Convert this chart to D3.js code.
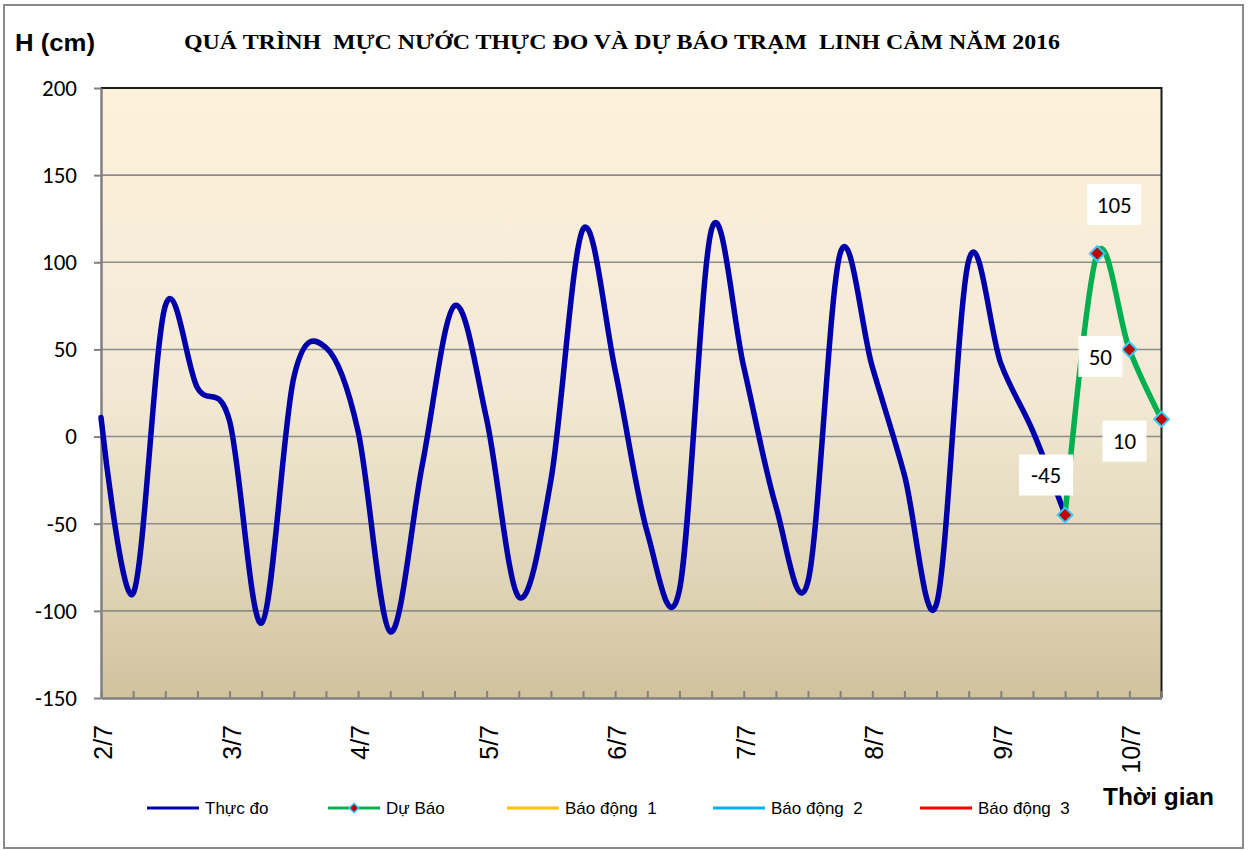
<!DOCTYPE html>
<html>
<head>
<meta charset="utf-8">
<script src="https://cdn.jsdelivr.net/npm/d3@7"></script>
<style>
  html, body { margin: 0; padding: 0; background: #fff; }
  svg { display: block; }
</style>
</head>
<body>
<svg id="chart" width="1251" height="850"></svg>
<script>
// ---------- DATA ----------
const title = "QUÁ TRÌNH  MỰC NƯỚC THỰC ĐO VÀ DỰ BÁO TRẠM  LINH CẢM NĂM 2016";
const yAxisTitle = "H (cm)";
const xAxisTitle = "Thời gian";
// 34 time steps (4 per day), 2/7 .. 10/7
const categories = d3.range(34);
const dayLabels = ["2/7", "3/7", "4/7", "5/7", "6/7", "7/7", "8/7", "9/7", "10/7"];
const stepsPerDay = 4;
const yTicks = [-150, -100, -50, 0, 50, 100, 150, 200];
// Observed water level (Thực đo), steps 0..30
const observed = [11, -90, 75, 28, 9, -107, 34, 51, 3, -112, -16, 75, 10, -92, -25, 119,
                  38, -55, -88, 119, 40, -40, -83, 105, 40, -22, -96, 101, 42, 3, -45];
// Forecast (Dự Báo), steps 30..33
const forecastStart = 30;
const forecast = [-45, 105, 50, 10];
const legendNames = ["Thực đo", "Dự Báo", "Báo động  1", "Báo động  2", "Báo động  3"];
const legendColors = ["#0000aa", "#00b050", "#ffc000", "#00b0f0", "#ff0000"];

// ---------- LAYOUT ----------
const svg = d3.select("#chart");
const P = { left: 101, right: 1161.5, top: 88, bottom: 698 };

const x = d3.scalePoint().domain(categories).range([P.left, P.right]);
const y = d3.scaleLinear().domain([-150, 200]).range([P.bottom, P.top]);

// outer frame
svg.append("rect").attr("x", 4).attr("y", 5).attr("width", 1239).attr("height", 843)
  .attr("fill", "#fff").attr("stroke", "#8a8a8a").attr("stroke-width", 2);

// background gradient
const defs = svg.append("defs");
const grad = defs.append("linearGradient").attr("id", "bg").attr("x1", 0).attr("y1", 0).attr("x2", 0).attr("y2", 1);
[["0%", "#fef1dc"], ["50%", "#f2e9d4"], ["80%", "#e0d5b7"], ["100%", "#d1c29d"]].forEach(s =>
  grad.append("stop").attr("offset", s[0]).attr("stop-color", s[1]));
svg.append("rect").attr("x", P.left).attr("y", P.top)
  .attr("width", P.right - P.left).attr("height", P.bottom - P.top).attr("fill", "url(#bg)");

// gridlines
svg.append("g").selectAll("line").data(yTicks.filter(t => t > -150 && t < 200)).join("line")
  .attr("x1", P.left).attr("x2", P.right).attr("y1", d => y(d)).attr("y2", d => y(d))
  .attr("stroke", "#8c8c8c").attr("stroke-width", 1.6);

// top & right border (black)
svg.append("path")
  .attr("d", `M${P.left},${P.top}H${P.right}V${P.bottom}`)
  .attr("fill", "none").attr("stroke", "#1a1a1a").attr("stroke-width", 2);

// y axis
const yAxis = d3.axisLeft(y).tickValues(yTicks).tickSize(7).tickSizeOuter(0).tickFormat(d => String(d));
const gy = svg.append("g").attr("transform", `translate(${P.left},0)`).call(yAxis);
gy.select(".domain").attr("stroke", "#808080").attr("stroke-width", 2.5);
gy.selectAll(".tick line").attr("stroke", "#808080").attr("stroke-width", 2);
gy.selectAll(".tick text").attr("x", -24).attr("font-family", "Carlito, 'Liberation Sans', Arial, sans-serif")
  .attr("font-size", 23).attr("fill", "#000");

// x axis (ticks inward)
const xAxis = d3.axisBottom(x).tickSize(-7).tickSizeOuter(0).tickFormat("");
const gx = svg.append("g").attr("transform", `translate(0,${P.bottom})`).call(xAxis);
gx.select(".domain").attr("stroke", "#808080").attr("stroke-width", 2.5);
gx.selectAll(".tick line").attr("stroke", "#808080").attr("stroke-width", 2);

// x day labels, rotated
svg.append("g").selectAll("text").data(dayLabels).join("text")
  .attr("transform", (d, i) => `translate(${x(i * stepsPerDay) + 11},725) rotate(-90)`)
  .attr("text-anchor", "end")
  .attr("font-family", "'Liberation Sans', Arial, sans-serif").attr("font-size", 25)
  .attr("fill", "#000").text(d => d);

// lines
const curve = d3.curveCatmullRom.alpha(0);
const lineGen = d3.line().x(d => x(d.i)).y(d => y(d.v)).curve(curve);
const obsData = observed.map((v, i) => ({ i, v }));
const fcData = forecast.map((v, k) => ({ i: forecastStart + k, v }));

svg.append("path").datum(obsData).attr("d", lineGen)
  .attr("fill", "none").attr("stroke", legendColors[0]).attr("stroke-width", 5.5)
  .attr("stroke-linejoin", "round").attr("stroke-linecap", "round");
svg.append("path").datum(fcData).attr("d", lineGen)
  .attr("fill", "none").attr("stroke", legendColors[1]).attr("stroke-width", 5.5)
  .attr("stroke-linejoin", "round").attr("stroke-linecap", "round");

svg.append("g").selectAll("path").data(fcData).join("path")
  .attr("transform", d => `translate(${x(d.i)},${y(d.v)}) rotate(45)`)
  .attr("d", d3.symbol().type(d3.symbolSquare).size(110))
  .attr("fill", "#c00000").attr("stroke", "#33ccff").attr("stroke-width", 2);

// data labels (white boxes)
const labelOffsets = [[-19, -40], [17, -49], [-29, 7], [-37, 22]];
const lg = svg.append("g");
fcData.forEach((d, k) => {
  const cx = x(d.i) + labelOffsets[k][0], cy = y(d.v) + labelOffsets[k][1];
  const t = String(d.v);
  const w = t.length === 3 ? 54 : 44, h = 41;
  lg.append("rect").attr("x", cx - w / 2).attr("y", cy - h / 2).attr("width", w).attr("height", h).attr("fill", "#fff");
  lg.append("text").attr("x", cx).attr("y", cy).attr("dy", "0.36em").attr("text-anchor", "middle")
    .attr("font-family", "Carlito, 'Open Sans', 'Liberation Sans', sans-serif").attr("font-size", 23)
    .attr("fill", "#000").text(t);
});

// titles
svg.append("text").attr("x", 622).attr("y", 49).attr("text-anchor", "middle")
  .style("white-space", "pre").attr("xml:space", "preserve")
  .attr("font-family", "'Liberation Serif', 'Times New Roman', serif").attr("font-weight", "bold")
  .attr("font-size", 22).attr("textLength", 876).attr("lengthAdjust", "spacingAndGlyphs")
  .attr("fill", "#000").text(title);
svg.append("text").attr("x", 15).attr("y", 51)
  .attr("font-family", "'Liberation Sans', Arial, sans-serif").attr("font-weight", "bold")
  .attr("font-size", 23).attr("textLength", 80).attr("lengthAdjust", "spacingAndGlyphs")
  .attr("fill", "#000").text(yAxisTitle);
svg.append("text").attr("x", 1103).attr("y", 805)
  .attr("font-family", "'Liberation Sans', Arial, sans-serif").attr("font-weight", "bold")
  .attr("font-size", 23).attr("textLength", 111).attr("lengthAdjust", "spacingAndGlyphs")
  .attr("fill", "#000").text(xAxisTitle);

// legend
const legendX = [147, 328, 507, 713, 920];
const leg = svg.append("g");
legendNames.forEach((name, k) => {
  const lx = legendX[k], ly = 808;
  leg.append("line").attr("x1", lx).attr("x2", lx + 52).attr("y1", ly).attr("y2", ly)
    .attr("stroke", legendColors[k]).attr("stroke-width", 3);
  if (k === 1) {
    leg.append("path").attr("transform", `translate(${lx + 26},${ly}) rotate(45)`)
      .attr("d", d3.symbol().type(d3.symbolSquare).size(45))
      .attr("fill", "#c00000").attr("stroke", "#33ccff").attr("stroke-width", 1.5);
  }
  leg.append("text").attr("x", lx + 58).attr("y", ly).attr("dy", "0.35em")
    .style("white-space", "pre")
    .attr("font-family", "'Liberation Sans', Arial, sans-serif").attr("font-size", 17)
    .attr("fill", "#000").text(name);
});
</script>
</body>
</html>
